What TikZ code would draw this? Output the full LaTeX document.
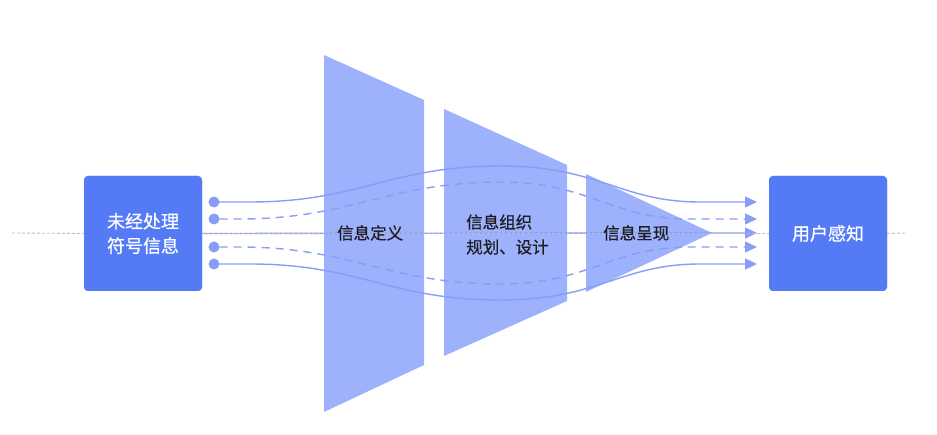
\documentclass[tikz,border=0pt]{standalone}
\usepackage{fontspec}
\newfontfamily\cjk[FakeBold=0.6]{Noto Sans CJK SC}
\usetikzlibrary{arrows.meta}
\definecolor{boxblue}{RGB}{85,122,246}
\definecolor{shapeblue}{RGB}{157,177,252}
\definecolor{lineblue}{RGB}{135,158,247}
\definecolor{guide}{RGB}{190,190,196}
\definecolor{labeltext}{RGB}{30,30,34}
\tikzset{
  stagebox/.style={fill=boxblue, draw=none, rounded corners=4pt, minimum width=118pt, minimum height=115pt, inner sep=0pt, text=white, font=\cjk\fontsize{18}{24.5}\selectfont, align=center},
  stageshape/.style={fill=shapeblue, draw=none},
  stagelabel/.style={text=labeltext, font=\cjk\fontsize{16.5}{25}\selectfont, inner sep=0pt},
  flowline/.style={draw=lineblue, line width=1.4pt, -{Triangle[length=12pt,width=11pt]}},
  flowdash/.style={flowline, dash pattern=on 8pt off 6pt},
  startdot/.style={circle, fill=lineblue, minimum size=11pt, inner sep=0pt},
  guideline/.style={draw=guide, line width=0.9pt, dash pattern=on 3pt off 2pt}
}
\begin{document}
\begin{tikzpicture}[x=1pt,y=-1pt]
\useasboundingbox (0,0) rectangle (937,435);
% stages
\path[stageshape] (324,55) -- (424,100) -- (424,365) -- (324,412) -- cycle;
\path[stageshape] (444,109) -- (567,165) -- (567,301) -- (444,356) -- cycle;
\path[stageshape] (586,174) -- (712,233) -- (586,292) -- cycle;
% boxes
\node[stagebox] (src) at (143,233.5) {未经处理\\符号信息};
\node[stagebox] (dst) at (828,233.5) {用户感知};
% start dots
\node[startdot] (d1) at (214,202) {};
\node[startdot] (d2) at (214,219) {};
\node[startdot] (d4) at (214,247) {};
\node[startdot] (d5) at (214,264) {};
% end points
\coordinate (e1) at (757,202);
\coordinate (e2) at (757,219);
\coordinate (e3) at (757,233);
\coordinate (e4) at (757,247);
\coordinate (e5) at (757,264);
% flow lines
\draw[flowline] (d1.center) -- (250,202) .. controls (360,202) and (390,166) .. (500,166) .. controls (600,166) and (620,202) .. (700,202) -- (e1);
\draw[flowdash] (d2.east) -- (240,219) .. controls (350,219) and (390,182) .. (500,182) .. controls (590,182) and (610,219) .. (690,219) -- (e2);
\draw[flowline] (src.east) -- (e3);
\draw[flowdash] (d4.east) -- (240,247) .. controls (350,247) and (390,284) .. (500,284) .. controls (590,284) and (610,247) .. (690,247) -- (e4);
\draw[flowline] (d5.center) -- (250,264) .. controls (360,264) and (390,300) .. (500,300) .. controls (600,300) and (620,264) .. (700,264) -- (e5);
% guide line
\coordinate (gl) at (12,233);
\coordinate (gr) at (905,233);
\draw[guideline] (gl) -- (src.west);
\draw[guideline] (src.east) -- (dst.west);
\draw[guideline] (dst.east) -- (gr);
% redraw boxes on top
\node[stagebox] at (src) {未经处理\\符号信息};
\node[stagebox] at (dst) {用户感知};
% labels
\node[stagelabel, anchor=west] (l1) at (337,233) {信息定义};
\node[stagelabel, anchor=west, align=left] (l2) at (466,234.5) {信息组织\\规划、设计};
\node[stagelabel, anchor=west] (l3) at (603,233) {信息呈现};
\end{tikzpicture}
\end{document}
